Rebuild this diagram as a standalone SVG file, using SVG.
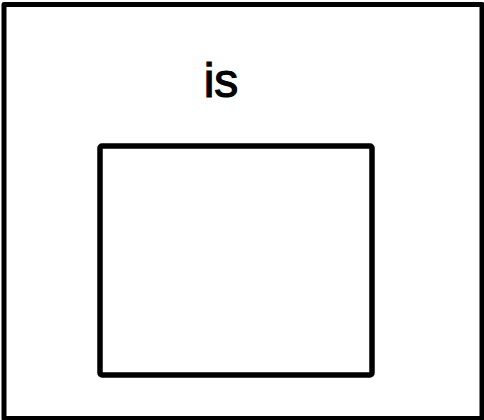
<svg xmlns="http://www.w3.org/2000/svg" width="484" height="420" viewBox="0 0 484 420">
<style>
.box{fill:#fff;stroke:#000;stroke-linejoin:round}
.lbl{font-family:"Liberation Sans",Arial,sans-serif;font-size:48px;fill:#000;stroke:#000;stroke-width:1.2px}
</style>
<rect width="484" height="420" fill="#fff"/>
<g id="outer">
<rect class="box" x="4" y="4.5" width="478" height="414" stroke-width="5"/>
<text class="lbl" x="221" y="97" text-anchor="middle">is</text>
</g>
<g id="inner">
<rect class="box" x="100" y="146" width="272" height="229" rx="2" stroke-width="5.5"/>
</g>
<g id="connectors"></g>
</svg>
